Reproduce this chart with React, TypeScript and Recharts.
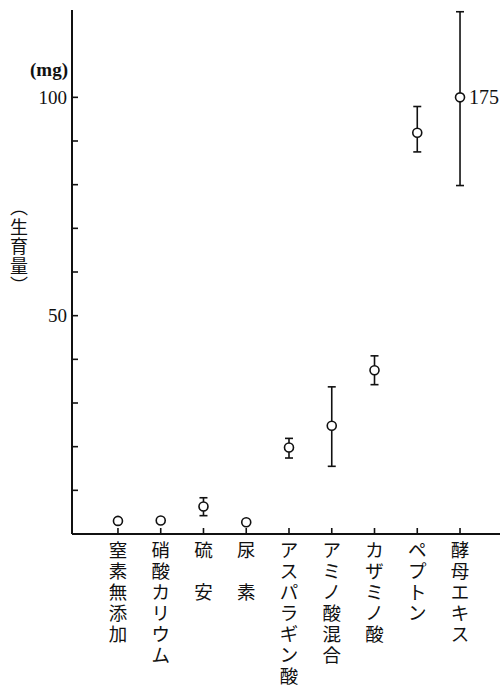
import React from 'react';
import { ScatterChart, Scatter, XAxis, YAxis, ErrorBar, LabelList } from 'recharts';

const categories = ['窒素無添加', '硝酸カリウム', '硫　安', '尿　素', 'アスパラギン酸', 'アミノ酸混合', 'カザミノ酸', 'ペプトン', '酵母エキス'];
const means = [3.0, 3.1, 6.3, 2.7, 19.8, 24.8, 37.5, 91.9, 100];
const lowerBounds: (number | null)[] = [null, null, 4.2, null, 17.4, 15.5, 34.2, 87.5, 79.8];
const upperBounds: (number | null)[] = [null, null, 8.3, null, 21.9, 33.7, 40.8, 97.9, 119.6];
const pointLabels = ['', '', '', '', '', '', '', '', '175'];
const yTicks = [10, 20, 30, 40, 50, 60, 70, 80, 90, 100];
const yTickLabels: Record<number, string> = { 50: '50', 100: '100' };
const xIndices = categories.map((_, i) => i);
const yUnit = '(mg)';
const yTitleChars = ['︵', '生', '育', '量', '︶'];

const data = categories.map((name, i) => ({
  idx: i,
  name,
  value: means[i],
  err:
    lowerBounds[i] == null || upperBounds[i] == null
      ? undefined
      : [means[i] - (lowerBounds[i] as number), (upperBounds[i] as number) - means[i]],
  label: pointLabels[i],
}));

const INK = '#111';
const SERIF = '"Liberation Serif", "DejaVu Serif", serif';
const CJK = '"Noto Sans CJK JP", sans-serif';

const XTick = (props: any) => {
  const { x, y, payload } = props;
  const label = categories[payload.value] ?? '';
  const chars = Array.from(label);
  return (
    <g>
      <line x1={x} y1={y} x2={x} y2={y - 6} stroke={INK} strokeWidth={1.6} />
      {chars.map((c, k) =>
        c === '　' ? null : (
          <text
            key={k}
            x={x}
            y={y + 15 + k * 21}
            textAnchor="middle"
            dominantBaseline="central"
            fontSize={18.5}
            fontFamily={CJK}
            fill={INK}
          >
            {c}
          </text>
        )
      )}
    </g>
  );
};

const YTick = (props: any) => {
  const { x, y, payload } = props;
  const label = yTickLabels[payload.value];
  return (
    <g>
      <line x1={x} y1={y} x2={x + 6} y2={y} stroke={INK} strokeWidth={1.6} />
      {label && (
        <text x={x - 5} y={y} textAnchor="end" dominantBaseline="central" fontSize={19} fontFamily={SERIF} fill={INK}>
          {label}
        </text>
      )}
    </g>
  );
};

const YLabel = (props: any) => {
  const vb = props.viewBox || {};
  const ax = (vb.x ?? 0) + (vb.width ?? 72);
  const top = vb.y ?? 10;
  return (
    <g>
      <text x={ax - 4} y={top + 59} textAnchor="end" dominantBaseline="central" fontSize={19} fontWeight="bold" fontFamily={SERIF} fill={INK}>
        {yUnit}
      </text>
      {yTitleChars.map((c, k) => (
        <text
          key={k}
          x={ax - 53}
          y={top + 196 + k * 19.5}
          textAnchor="middle"
          dominantBaseline="central"
          fontSize={18}
          fontFamily={CJK}
          fill={INK}
        >
          {c}
        </text>
      ))}
    </g>
  );
};

const Dot = (props: any) => {
  const { cx, cy } = props;
  return <circle cx={cx} cy={cy} r={4.5} fill="#fff" stroke={INK} strokeWidth={1.6} />;
};

const PointLabel = (props: any) => {
  const { x, y, width, height, value } = props;
  if (!value) return null;
  return (
    <text x={x + width + 4.5} y={y + height / 2} textAnchor="start" dominantBaseline="central" fontSize={20} fontFamily={SERIF} fill={INK}>
      {value}
    </text>
  );
};

export default function App() {
  return (
    <div style={{ position: 'absolute', left: 0, top: 0, width: 502, height: 689, background: '#fff' }}>
      <ScatterChart width={502} height={689} margin={{ top: 10, right: 2, bottom: 0, left: 0 }}>
        <XAxis
          type="number"
          dataKey="idx"
          domain={[-1.075, 8.935]}
          ticks={xIndices}
          interval={0}
          height={155}
          tickSize={0}
          tickMargin={0}
          tickLine={false}
          tick={<XTick />}
          axisLine={{ stroke: INK, strokeWidth: 2 }}
          allowDataOverflow
        />
        <YAxis
          type="number"
          dataKey="value"
          domain={[0, 120]}
          ticks={yTicks}
          interval={0}
          width={72}
          tickSize={0}
          tickMargin={0}
          tickLine={false}
          tick={<YTick />}
          axisLine={{ stroke: INK, strokeWidth: 2 }}
          label={<YLabel />}
          allowDataOverflow
        />
        <Scatter data={data} shape={<Dot />} isAnimationActive={false}>
          <ErrorBar dataKey="err" direction="y" width={4} stroke={INK} strokeWidth={1.6} />
          <LabelList dataKey="label" content={<PointLabel />} />
        </Scatter>
      </ScatterChart>
    </div>
  );
}
